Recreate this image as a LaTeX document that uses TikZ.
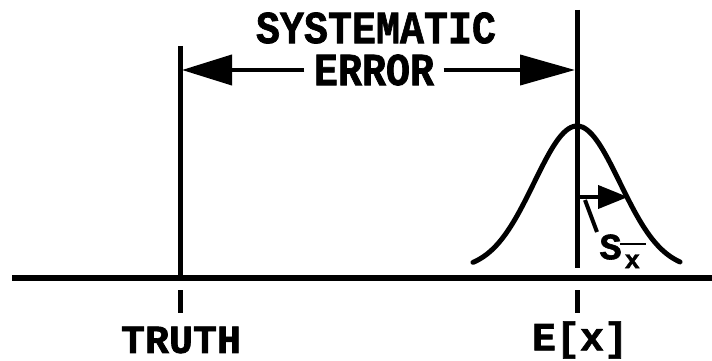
\documentclass[tikz,border=0pt]{standalone}
\usepackage{fontspec}
\newfontfamily\heavymono[FakeBold=1.6]{Liberation Mono Bold}
\usetikzlibrary{arrows.meta}

\begin{document}
\begin{tikzpicture}[x=1pt,y=-1pt,line width=5pt,
    lbl/.style={font=\heavymono\fontsize{40}{40}\selectfont,inner sep=0pt},
    tip/.style={-{Triangle[length=#1,width=30pt]}}]
    \useasboundingbox (0,0) rectangle (712,361);

    % Axis
    \draw[line width=6pt] (12,278) coordinate (axl) -- (712,278) coordinate (axr);

    % Truth and mean lines
    \coordinate (truthtop) at (180,46);
    \coordinate (truthbot) at (180,278);
    \coordinate (meantop) at (577,10);
    \coordinate (meanbot) at (577,268);
    \draw (truthtop) -- (truthbot);
    \draw (meantop) -- (meanbot);

    % Ticks below the axis
    \draw (180,290) coordinate (tt1) -- (180,313) coordinate (tt2);
    \draw (577,290) coordinate (mt1) -- (577,313) coordinate (mt2);

    % Bell curve
    \draw[domain=473:680,samples=90,smooth,line cap=round]
      plot (\x,{270-144*exp(-((\x-577)^2)/3680)});

    % Systematic error arrow
    \node[lbl] (sys) at (376,28) {\scalebox{1}[1.15]{SYSTEMATIC}};
    \coordinate (errl) at (182,70);
    \coordinate (errr) at (575,70);
    \node[lbl,fill=white,inner xsep=7pt] (err) at (374,70) {\scalebox{1}[1.15]{ERROR}};
    \draw[line width=4pt,tip=50pt] (err.west) -- (errl);
    \draw[line width=4pt,tip=55pt] (err.east) -- (errr);

    % Spread arrow and its label
    \coordinate (sdl) at (577,197);
    \coordinate (sdr) at (628,197);
    \draw[line width=4pt,-{Triangle[length=30pt,width=23pt]}] (sdl) -- (sdr);
    \node[anchor=north west,inner sep=0pt,font=\heavymono\fontsize{37}{37}\selectfont]
      (sx) at (597,232) {S};
    \node[anchor=north west,inner sep=0pt,font=\heavymono\fontsize{26}{26}\selectfont]
      (sxsub) at (622,252) {x};
    \draw[line width=2.5pt] ([xshift=-2pt,yshift=8pt]sxsub.north west) -- ([xshift=3pt,yshift=8pt]sxsub.north east);
    \draw[line width=4pt] (585,200) -- (sx.north west);

    % Labels
    \node[lbl] (truth) at (181,340) {TRUTH};
    \node[lbl] (ex) at (580,340) {E[x]};
\end{tikzpicture}
\end{document}
